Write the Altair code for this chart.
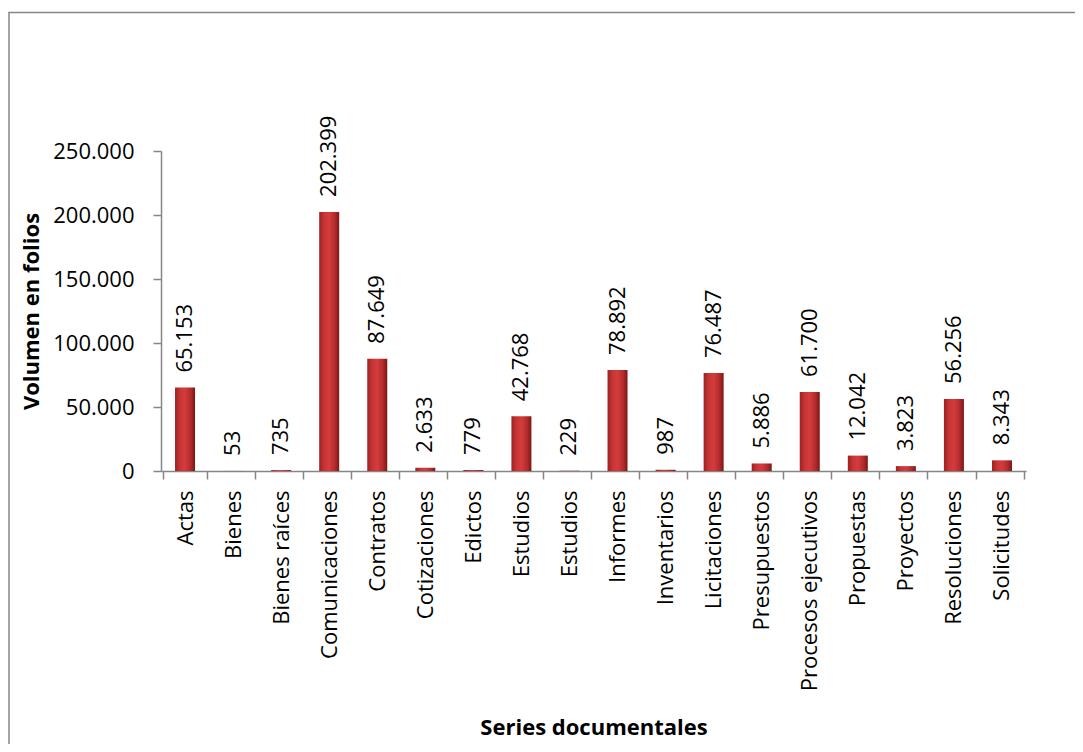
import altair as alt
import pandas as pd

categories = ["Actas", "Bienes", "Bienes raíces", "Comunicaciones", "Contratos",
              "Cotizaciones", "Edictos", "Estudios", "Estudios", "Informes",
              "Inventarios", "Licitaciones", "Presupuestos", "Procesos ejecutivos",
              "Propuestas", "Proyectos", "Resoluciones", "Solicitudes"]
values = [65153, 53, 735, 202399, 87649, 2633, 779, 42768, 229, 78892,
          987, 76487, 5886, 61700, 12042, 3823, 56256, 8343]
y_ticks = [0, 50000, 100000, 150000, 200000, 250000]

df = pd.DataFrame({
    "idx": list(range(len(categories))),
    "cat": categories,
    "value": values,
    "label": [f"{v:,}".replace(",", ".") for v in values],
})

FONT = "Open Sans"
GRAY = "#868686"

names_js = "[" + ",".join("'" + c + "'" for c in categories) + "]"

grad = alt.Gradient(
    gradient="linear", x1=0, x2=1, y1=0, y2=0,
    stops=[alt.GradientStop(color="#9a2222", offset=0),
           alt.GradientStop(color="#c83434", offset=0.25),
           alt.GradientStop(color="#d43c3c", offset=0.5),
           alt.GradientStop(color="#b02a2a", offset=0.8),
           alt.GradientStop(color="#7a1616", offset=1)])

x_enc = alt.X("idx:O", sort=None, axis=alt.Axis(
    title="Series documentales", labelExpr=names_js + "[datum.value]",
    labelAngle=270, labelAlign="right", labelBaseline="middle",
    labelPadding=11, tickSize=8, tickBand="extent", labelLimit=0,
    titleY=256, titleBaseline="middle"))

y_enc = alt.Y("value:Q", scale=alt.Scale(domain=[0, 250000], nice=False),
              axis=alt.Axis(title="Volumen en folios", values=y_ticks,
                            labelExpr="replace(format(datum.value, ','), ',', '.')",
                            labelPadding=19, tickSize=8, grid=False,
                            titleX=-130, titleBaseline="middle"))

base = alt.Chart(df)
bars = base.mark_bar(size=20, color=grad).encode(x=x_enc, y=y_enc)
text = base.mark_text(angle=270, align="left", baseline="middle", dx=15,
                      font=FONT, fontSize=22, color="black").encode(
    x=alt.X("idx:O", sort=None), y="value:Q", text="label:N")

frame = alt.Chart(pd.DataFrame({"a": [0]})).mark_rect(
    fill="transparent", stroke=GRAY, strokeWidth=1.5).encode(
    x=alt.value(-152), x2=alt.value(3000), y=alt.value(-138.5), y2=alt.value(3000))

chart = alt.layer(frame, bars, text).properties(
    width=865, height=320,
    autosize=alt.AutoSizeParams(type="none"),
    padding={"left": 153, "top": 143, "right": 49, "bottom": 273},
).configure_view(stroke=None).configure_axis(
    labelFont=FONT, labelFontSize=22, labelColor="black",
    titleFont=FONT, titleFontSize=22, titleFontWeight="bold", titleColor="black",
    domainColor=GRAY, tickColor=GRAY, domainWidth=1.5, tickWidth=1.5,
)

chart.save("out.html", embed_options={"renderer": "svg", "actions": False})
